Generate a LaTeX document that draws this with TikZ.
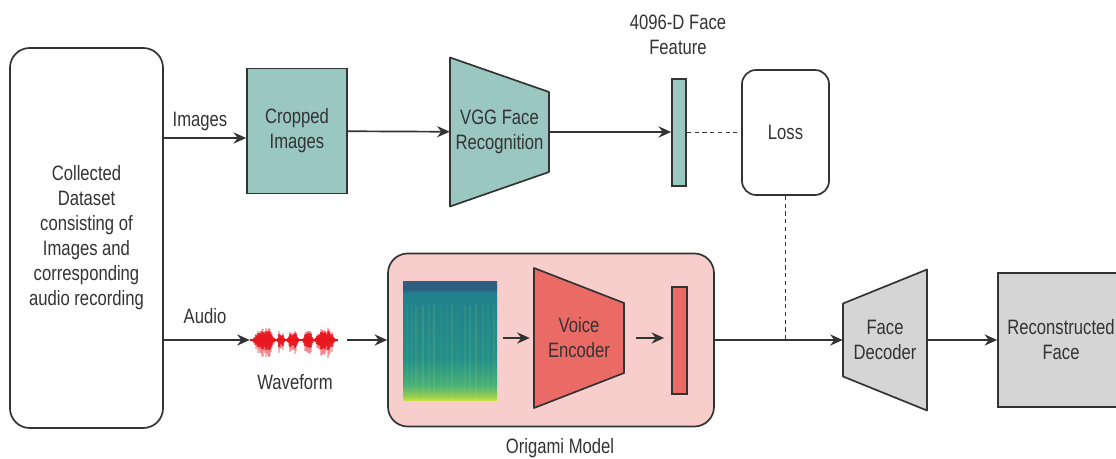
\documentclass[tikz,border=0pt]{standalone}
\usepackage{fontspec}
\newfontfamily\diafont{Liberation Sans}[FakeStretch=0.8]
\usepackage{tikz}
\usetikzlibrary{arrows.meta,calc}
\newlength\pxu
\setlength\pxu{0.025cm}
\definecolor{linegray}{HTML}{333333}
\definecolor{textgray}{HTML}{333333}
\definecolor{tealfill}{HTML}{9AC7BF}
\definecolor{pinkfill}{HTML}{F8CECC}
\definecolor{encred}{HTML}{EA6B66}
\definecolor{grayfill}{HTML}{D5D5D5}
\definecolor{wavered}{HTML}{E8141C}
\definecolor{specdark}{HTML}{2F5F80}
\definecolor{specteal}{HTML}{21808C}
\definecolor{specmid}{HTML}{24908A}
\definecolor{specgreen}{HTML}{4AB178}
\definecolor{speclime}{HTML}{8FCB55}
\definecolor{specyellow}{HTML}{C4DF45}
\pgfdeclareverticalshading{specshade}{100bp}{color(0bp)=(specyellow); color(25bp)=(specyellow);
  color(27bp)=(speclime); color(31bp)=(specgreen); color(42bp)=(specmid); color(70bp)=(specteal);
  color(71.5bp)=(specdark); color(100bp)=(specdark)}
\tikzset{
  lbl/.style={font=\diafont\fontsize{14.8}{17.8}\selectfont, text=textgray, align=center, inner sep=0pt},
  box/.style={lbl, draw=linegray, line width=1.2pt},
  tealbox/.style={box, fill=tealfill},
  graybox/.style={box, fill=grayfill},
  rbox/.style={box, rounded corners=14pt},
  trap/.style={draw=linegray, line width=1.2pt, line join=round},
  arr/.style={-{Stealth[length=9pt,width=8pt,inset=3pt]}, line width=1.2pt, draw=linegray},
  dline/.style={line width=1.2pt, draw=linegray, dash pattern=on 3pt off 2.5pt}
}

\begin{document}
\begin{tikzpicture}[x=0.025cm,y=-0.025cm,
  declare function={bump(\x,\c,\w)=exp(-(min(abs((\x-\c)/\w),2.5))^4);}]
\useasboundingbox (0,0) rectangle (1116,459);

% left: data set
\node[rbox, minimum width=153\pxu, minimum height=380\pxu] (ds) at (86.5,238)
  {Collected\\Dataset\\consisting of\\Images and\\corresponding\\audio recording};

% image branch
\node[tealbox, minimum width=100\pxu, minimum height=125\pxu] (crop) at (297,131) {Cropped\\Images};
\draw[trap, fill=tealfill] (450,57.5) -- (549,92) -- (549,172) -- (450,206.5) -- cycle;
\node[lbl, minimum width=99\pxu, minimum height=149\pxu] (vgg) at (499.5,132) {VGG Face\\Recognition};
\node[tealbox, minimum width=14\pxu, minimum height=107\pxu] (feat) at (679,132.5) {};
\node[lbl] (featlbl) at (678,34.5) {4096-D Face\\Feature};
\node[box, rounded corners=10pt, minimum width=87\pxu, minimum height=125\pxu] (loss) at (785.5,132.5) {Loss};

\coordinate (cropin) at ([yshift=-7\pxu]crop.west);
\draw[arr] (ds.east |- cropin) -- (cropin);
\node[lbl] (imglbl) at (200,122) {Images};
\draw[arr] (crop) -- (vgg);
\draw[arr] (vgg.east) -- (feat.west |- vgg.east);
\draw[dline] (feat) -- (loss);

% audio branch
\node[lbl, minimum width=97\pxu, minimum height=32\pxu] (wave) at (298.5,340) {};
\draw[wavered, line width=1.4pt] (wave.west) -- ([xshift=-9\pxu]wave.east);
\pgfmathsetseed{11}
\foreach \i in {0,...,84}{
  \pgfmathsetmacro\amp{(13*bump(\i,11,9)+10*bump(\i,28,3)+11*bump(\i,40,5)
    +10*bump(\i,55,4.5)+12*bump(\i,72,9))*(0.45+0.55*rnd)}
  \draw[wavered, line width=1.1pt, opacity=0.3] (253+\i,340-1.1*\amp) -- (253+\i,340+1.6*\amp);
  \draw[wavered, line width=0.9pt, opacity=0.8] (253+\i,340-0.8*\amp) -- (253+\i,340+0.9*\amp);
}
\node[lbl] (wavelbl) at (295,382) {Waveform};
\node[lbl] (audlbl) at (205,316) {Audio};
\draw[arr] (ds.east |- wave.west) -- (wave.west);

\node[rbox, fill=pinkfill, minimum width=326\pxu, minimum height=173\pxu] (orig) at (551,340) {};
\node[lbl] (origlbl) at (560,448) {Origami Model};
\draw[arr] (wave.east) -- (orig.west);

\node[minimum width=94\pxu, minimum height=119\pxu, inner sep=0pt, shading=specshade] (spec) at (450,340.5) {};
\foreach \x in {407,412,416,423,429,434,441,447,452,458,465,470,476,483,488,494}{
  \pgfmathsetmacro\op{0.04+0.12*rnd}
  \draw[specyellow, opacity=\op, line width=1pt] (\x,305) -- (\x,398);
}
\draw[trap, fill=encred] (534,268) -- (624,303) -- (624,373) -- (534,408) -- cycle;
\node[lbl, minimum width=90\pxu, minimum height=140\pxu] (enc) at (579,338) {Voice\\Encoder};
\node[box, fill=encred, minimum width=15\pxu, minimum height=107\pxu] (vec) at (679.5,340.5) {};
\draw[arr, shorten <=6\pxu, shorten >=4\pxu] (spec.east |- enc.west) -- (enc.west);
\draw[arr, shorten <=12\pxu, shorten >=7\pxu] (enc.east) -- (vec.west |- enc.east);

% decoder
\draw[trap, fill=grayfill] (843,303.5) -- (927,269.5) -- (927,410.5) -- (843,376.5) -- cycle;
\node[lbl, minimum width=84\pxu, minimum height=141\pxu] (dec) at (885,340) {Face\\Decoder};
\node[graybox, minimum width=126\pxu, minimum height=134\pxu] (recon) at (1061,340) {Reconstructed\\Face};
\draw[arr] (orig.east) -- (dec.west);
\draw[dline] (loss.south) -- (loss.south |- dec.west);
\draw[arr] (dec.east) -- (recon.west);
\end{tikzpicture}
\end{document}
